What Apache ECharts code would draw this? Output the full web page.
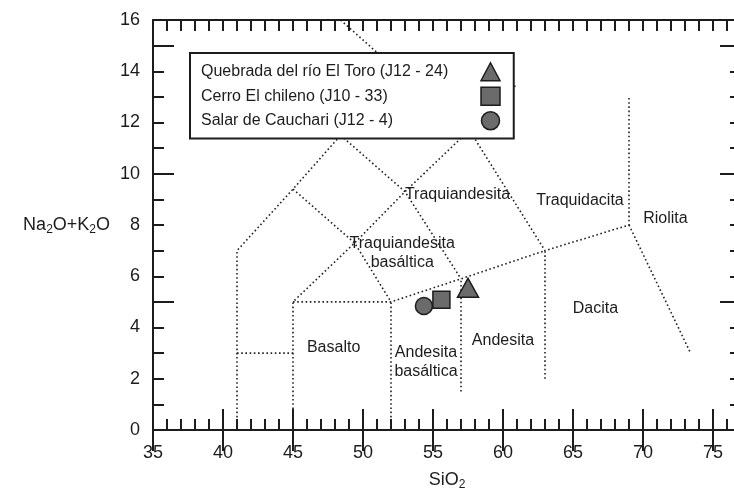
<!DOCTYPE html>
<html>
<head>
<meta charset="utf-8">
<script src="https://cdn.jsdelivr.net/npm/echarts@6.0.0/dist/echarts.min.js"></script>
<style>
  html, body { margin: 0; padding: 0; background: #fff; }
  #chart { width: 734px; height: 492px; }
</style>
</head>
<body>
<div id="chart"></div>
<script>
// TAS boundaries (SiO2, Na2O+K2O)
const foiditeLine = [[41, 0], [41, 7], [45, 9.4], [48.4, 11.5], [52.5, 14]]
const phonoliteLine = [[48.4, 16], [52.5, 14], [57.6, 11.7], [63, 7], [69, 8], [69, 13]]
const trachyLine = [[45, 0], [45, 5], [49.4, 7.3], [53, 9.3], [57.6, 11.7], [61, 13.5]]
const subalkalineLine = [[45, 5], [52, 5], [57, 5.9], [63, 7]]
const picroLine = [[41, 3], [45, 3]]
const line52 = [[52, 0], [52, 5]]
const line57 = [[57, 1.5], [57, 5.9]]
const line63 = [[63, 2], [63, 7]]
const tephriteLine = [[45, 9.4], [49.4, 7.3], [52, 5]]
const phonotephriteLine = [[48.4, 11.5], [53, 9.3], [57, 5.9]]
const rhyoliteLine = [[69, 8], [73.4, 3]]

// field names
const fieldNames = ['Traquiandesita', 'Traquidacita', 'Riolita', 'Traquiandesita\nbasáltica',
  'Basalto', 'Andesita\nbasáltica', 'Andesita', 'Dacita']
const fieldX = [56.75, 65.5, 71.6, 52.8, 47.9, 54.5, 60, 66.6]
const fieldY = [9.2, 8.95, 8.25, 6.9, 3.2, 2.65, 3.5, 4.75]

// samples
const sampleNames = ['Quebrada del río El Toro (J12 - 24)', 'Cerro El chileno (J10 - 33)', 'Salar de Cauchari (J12 - 4)']
const sampleSiO2 = [57.5, 55.6, 54.35]
const sampleAlkali = [5.55, 5.08, 4.84]

// tick labels
const xLabels = [35, 40, 45, 50, 55, 60, 65, 70, 75]
const yLabels = [0, 2, 4, 6, 8, 10, 12, 14, 16]

const ink = '#1c1c1c'
const font = 'Liberation Sans, Arial, sans-serif'

const chart = echarts.init(document.getElementById('chart'), null, { renderer: 'canvas' })

function frameAxis(pos, min, max, interval, len, extra) {
  return Object.assign({
    type: 'value',
    position: pos,
    min: min,
    max: max,
    interval: interval,
    splitLine: { show: false },
    axisLine: { show: true, onZero: false, lineStyle: { color: ink, width: 2 } },
    axisTick: { show: true, inside: true, length: len, lineStyle: { color: ink, width: 2 } },
    axisLabel: { show: false }
  }, extra || {})
}

const boundaryLines = [foiditeLine, phonoliteLine, trachyLine, subalkalineLine, picroLine,
  line52, line57, line63, tephriteLine, phonotephriteLine, rhyoliteLine]

const series = boundaryLines.map(pts => ({
  type: 'line',
  data: pts,
  symbol: 'none',
  silent: true,
  z: 1,
  lineStyle: { color: '#222', width: 1.6, type: [1.6, 2.6] }
}))

series.push({
  type: 'scatter',
  silent: true,
  symbolSize: 0,
  z: 3,
  itemStyle: { opacity: 1 },
  data: fieldNames.map((n, i) => [fieldX[i], fieldY[i], n]),
  label: {
    show: true,
    position: 'inside',
    formatter: p => p.data[2],
    color: ink,
    opacity: 1,
    fontSize: 16,
    lineHeight: 19,
    fontFamily: font,
    align: 'center'
  }
})

const symbols = ['triangle', 'rect', 'circle']
const sizes = [[21, 19], 17, 17]
sampleNames.forEach((name, i) => {
  series.push({
    name: name,
    type: 'scatter',
    symbol: symbols[i],
    symbolSize: sizes[i],
    z: 5,
    data: [[sampleSiO2[i], sampleAlkali[i]]],
    itemStyle: { color: '#6b6b6b', borderColor: ink, borderWidth: 1.5, opacity: 1 }
  })
})

const options = {
  animation: false,
  backgroundColor: '#fff',
  textStyle: { fontFamily: font },
  grid: { left: 153, top: 20, width: 588, height: 410, containLabel: false, outerBoundsMode: 'none' },
  legend: {
    orient: 'vertical',
    left: 190,
    top: 53,
    align: 'right',
    padding: [9, 13, 8, 11],
    itemGap: 5,
    itemWidth: 19,
    itemHeight: 18,
    borderColor: ink,
    borderWidth: 2,
    backgroundColor: '#fff',
    z: 10,
    data: sampleNames.map((n, i) => ({ name: n, icon: symbols[i] })),
    formatter: n => '{t|' + n + '}',
    textStyle: {
      color: ink,
      fontSize: 16,
      fontFamily: font,
      rich: { t: { width: 275, fontSize: 16, fontFamily: font, color: ink, align: 'left' } }
    },
    itemStyle: { color: '#6b6b6b', borderColor: ink, borderWidth: 1.5 }
  },
  xAxis: [
    frameAxis('bottom', 35, 77, 1, 11, {
      name: 'SiO{s|2}',
      nameLocation: 'middle',
      nameGap: 40,
      nameTextStyle: {
        color: ink, fontSize: 18, fontFamily: font,
        rich: { s: { fontSize: 12, verticalAlign: 'bottom', padding: [9, 0, 0, 0] } }
      },
      axisLabel: {
        show: true, margin: 14, color: ink, fontSize: 18, fontFamily: font,
        formatter: v => (xLabels.includes(v) ? String(v) : '')
      }
    }),
    frameAxis('bottom', 35, 77, 5, 21, { axisLine: { show: false } }),
    frameAxis('top', 35, 77, 1, 11),
    frameAxis('top', 35, 77, 5, 21, { axisLine: { show: false } })
  ],
  yAxis: [
    frameAxis('left', 0, 16, 1, 11, {
      name: 'Na{s|2}O+K{s|2}O',
      nameLocation: 'middle',
      nameRotate: 0,
      nameGap: 43,
      nameTextStyle: {
        color: ink, fontSize: 18, fontFamily: font, align: 'right',
        rich: { s: { fontSize: 12, verticalAlign: 'bottom', padding: [9, 0, 0, 0] } }
      },
      axisLabel: {
        show: true, margin: 13, color: ink, fontSize: 18, fontFamily: font,
        formatter: v => (yLabels.includes(v) ? String(v) : '')
      }
    }),
    frameAxis('left', 0, 16, 5, 21, { axisLine: { show: false } }),
    frameAxis('right', 0, 16, 1, 11),
    frameAxis('right', 0, 16, 5, 21, { axisLine: { show: false } })
  ],
  series: series
}

chart.setOption(options)
</script>
</body>
</html>
